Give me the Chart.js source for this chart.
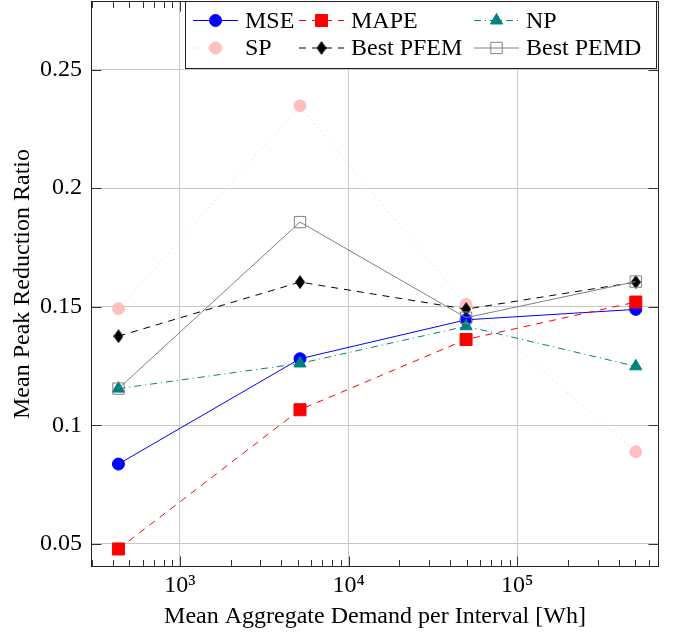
<!DOCTYPE html>
<html><head><meta charset="utf-8">
<script src="https://cdn.jsdelivr.net/npm/chart.js@4/dist/chart.umd.min.js"></script>
<style>html,body{margin:0;padding:0;background:#fff}#wrap{width:676px;height:634px}</style>
</head><body><div id="wrap"><canvas id="c" width="676" height="634"></canvas></div>
<script>
// ---- data ----
const demand = [432, 5150, 49700, 504000];
const mse  = [0.0837, 0.1281, 0.1445, 0.1489];
const mape = [0.0479, 0.1066, 0.1362, 0.1520];
const np   = [0.1155, 0.1261, 0.1418, 0.1249];
const sp   = [0.1492, 0.2347, 0.1510, 0.0889];
const pfem = [0.1376, 0.1604, 0.1490, 0.1604];
const pemd = [0.1155, 0.1857, 0.1454, 0.1606];
const seriesNames = ['MSE', 'MAPE', 'NP', 'SP', 'Best PFEM', 'Best PEMD'];
const xTickValues = [1e3, 1e4, 1e5];
const xTickLabels = ['10³', '10⁴', '10⁵'];
const yTickValues = [0.05, 0.1, 0.15, 0.2, 0.25];
const yTickLabels = ['0.05', '0.1', '0.15', '0.2', '0.25'];
const xTitle = 'Mean Aggregate Demand per Interval [Wh]';
const yTitle = 'Mean Peak Reduction Ratio';

// ---- styling ----
const FONT = "'Liberation Serif', 'Times New Roman', serif";
const FS = 24;

function diamondCanvas(w, h, color) {
  const c = document.createElement('canvas');
  c.width = w; c.height = h;
  const g = c.getContext('2d');
  g.fillStyle = color;
  g.beginPath();
  g.moveTo(w / 2, 0); g.lineTo(w, h / 2); g.lineTo(w / 2, h); g.lineTo(0, h / 2);
  g.closePath(); g.fill();
  return c;
}
const diamond = diamondCanvas(10, 14, '#000');

const styles = [
  {color: '#0000ff', fill: '#0000ff', dash: [], style: 'circle', r: 6},
  {color: '#ff0000', fill: '#ff0000', dash: [7, 6], style: 'rect', r: 8.5},
  {color: '#008080', fill: '#008080', dash: [7, 4, 1, 4], style: 'triangle', r: 7},
  {color: '#ffbfbf', fill: '#ffbfbf', dash: [1, 4], style: 'circle', r: 6},
  {color: '#000000', fill: '#000000', dash: [7, 6], style: diamond, r: 7},
  {color: '#808080', fill: 'rgba(0,0,0,0)', dash: [], style: 'rect', r: 8}
];
const seriesValues = [mse, mape, np, sp, pfem, pemd];

const datasets = seriesValues.map((vals, i) => ({
  label: seriesNames[i],
  data: demand.map((x, k) => ({x: x, y: vals[k]})),
  borderColor: styles[i].color,
  backgroundColor: styles[i].fill,
  borderWidth: 1,
  borderDash: styles[i].dash,
  pointStyle: styles[i].style,
  pointRadius: styles[i].r,
  pointBackgroundColor: styles[i].fill,
  pointBorderColor: styles[i].color,
  pointBorderWidth: 1,
  tension: 0,
  fill: false,
  order: 10 - i
}));

function drawLegendMarker(ctx, st, x, y) {
  ctx.save();
  ctx.setLineDash([]);
  ctx.lineWidth = 1;
  ctx.fillStyle = st.fill; ctx.strokeStyle = st.color;
  const r = st.r;
  if (st.style === 'circle') {
    ctx.beginPath(); ctx.arc(x, y, r, 0, Math.PI * 2); ctx.fill(); ctx.stroke();
  } else if (st.style === 'rect') {
    const s = r * Math.SQRT1_2;
    ctx.beginPath(); ctx.rect(x - s, y - s, 2 * s, 2 * s); ctx.fill(); ctx.stroke();
  } else if (st.style === 'triangle') {
    ctx.beginPath();
    ctx.moveTo(x, y - r);
    ctx.lineTo(x + r * Math.sin(Math.PI * 2 / 3), y - r * Math.cos(Math.PI * 2 / 3));
    ctx.lineTo(x - r * Math.sin(Math.PI * 2 / 3), y - r * Math.cos(Math.PI * 2 / 3));
    ctx.closePath(); ctx.fill(); ctx.stroke();
  } else {
    ctx.drawImage(st.style, x - st.style.width / 2, y - st.style.height / 2);
  }
  ctx.restore();
}

const framePlugin = {
  id: 'frameTicks',
  beforeDatasetsDraw(chart) {
    const {ctx, chartArea: a} = chart;
    const xs = chart.scales.x, ys = chart.scales.y;
    ctx.save();
    ctx.strokeStyle = '#333';
    ctx.lineWidth = 1;
    const L = Math.round(a.left) + 0.5, R = Math.round(a.right) - 0.5;
    const T = Math.round(a.top) + 0.5, B = Math.round(a.bottom) - 0.5;
    ctx.beginPath();
    for (let d = 100; d <= 1e6; d *= 10) {
      for (let m = 2; m <= 9; m++) {
        const v = d * m;
        if (v <= xs.min || v >= xs.max) continue;
        const px = Math.round(xs.getPixelForValue(v)) + 0.5;
        ctx.moveTo(px, B); ctx.lineTo(px, B - 6.5);
        ctx.moveTo(px, T); ctx.lineTo(px, T + 6.5);
      }
    }
    xTickValues.forEach(v => {
      const px = Math.round(xs.getPixelForValue(v)) + 0.5;
      ctx.moveTo(px, B); ctx.lineTo(px, B - 10);
      ctx.moveTo(px, T); ctx.lineTo(px, T + 10);
    });
    yTickValues.forEach(v => {
      const py = Math.round(ys.getPixelForValue(v)) + 0.5;
      ctx.moveTo(L, py); ctx.lineTo(L + 10, py);
      ctx.moveTo(R, py); ctx.lineTo(R - 10, py);
    });
    ctx.stroke();
    ctx.strokeStyle = '#222';
    ctx.strokeRect(L, T, R - L, B - T);
    ctx.restore();
  },
  afterDraw(chart) {
    const ctx = chart.ctx;
    ctx.save();
    ctx.fillStyle = '#fff';
    ctx.strokeStyle = '#222';
    ctx.lineWidth = 1;
    ctx.fillRect(185.5, 1.5, 471, 67);
    ctx.strokeRect(185.5, 1.5, 471, 67);
    const colX = [193, 299, 474];
    const rowY = [20.5, 48];
    const baseY = [27.5, 54.5];
    ctx.font = FS + 'px ' + FONT;
    ctx.textBaseline = 'alphabetic';
    ctx.textAlign = 'left';
    datasets.forEach((ds, i) => {
      const col = i % 3, row = Math.floor(i / 3);
      const x0 = colX[col], y = rowY[row];
      const st = styles[i];
      ctx.save();
      ctx.strokeStyle = st.color;
      ctx.lineWidth = 1;
      ctx.setLineDash(st.dash);
      ctx.beginPath(); ctx.moveTo(x0, y); ctx.lineTo(x0 + 45, y); ctx.stroke();
      ctx.restore();
      drawLegendMarker(ctx, st, x0 + 22.5, y);
      ctx.fillStyle = '#000';
      ctx.fillText(ds.label, x0 + 52, baseY[row]);
    });
    ctx.restore();
  }
};

new Chart(document.getElementById('c'), {
  type: 'line',
  data: {datasets: datasets},
  options: {
    responsive: false,
    animation: false,
    devicePixelRatio: 1,
    layout: {autoPadding: false, padding: {top: 1, right: 17, bottom: 0, left: 0}},
    plugins: {legend: {display: false}, tooltip: {enabled: false}},
    scales: {
      x: {
        type: 'logarithmic',
        min: 297, max: 692000,
        afterBuildTicks: s => { s.ticks = xTickValues.map(v => ({value: v, major: true})); },
        afterFit: s => { s.height = 67; s.paddingLeft = 0; s.paddingRight = 0; },
        ticks: {
          autoSkip: false, maxRotation: 0, minRotation: 0, padding: 4, color: '#000',
          font: {family: FONT, size: FS},
          callback: v => { const k = xTickValues.indexOf(v); return k >= 0 ? xTickLabels[k] : ''; }
        },
        grid: {color: '#c8c8c8', lineWidth: 1, drawTicks: false},
        border: {display: false},
        title: {display: true, text: xTitle, color: '#000', font: {family: FONT, size: FS}, padding: {top: 0, bottom: 3}}
      },
      y: {
        type: 'linear',
        min: 0.0403, max: 0.2789,
        afterBuildTicks: s => { s.ticks = yTickValues.map(v => ({value: v})); },
        afterFit: s => { s.width = 91; s.paddingTop = 0; s.paddingBottom = 0; },
        ticks: {
          autoSkip: false, padding: 9, color: '#000',
          font: {family: FONT, size: FS},
          callback: v => { const k = yTickValues.indexOf(v); return k >= 0 ? yTickLabels[k] : ''; }
        },
        grid: {color: '#c8c8c8', lineWidth: 1, drawTicks: false},
        border: {display: false},
        title: {display: true, text: yTitle, color: '#000', font: {family: FONT, size: FS}, padding: {top: 8, bottom: 0}}
      }
    }
  },
  plugins: [framePlugin]
});
</script>
</body></html>
